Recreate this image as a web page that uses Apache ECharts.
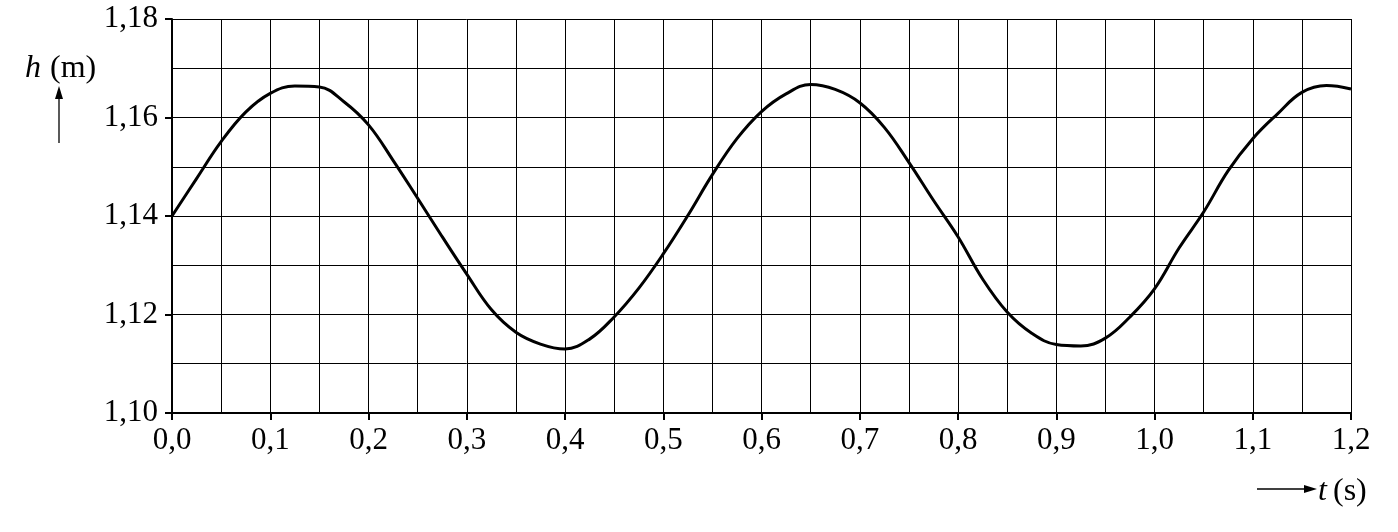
<!DOCTYPE html>
<html>
<head>
<meta charset="UTF-8">
<script src="https://cdn.jsdelivr.net/npm/echarts@6/dist/echarts.min.js"></script>
<style>
    html, body { margin: 0; padding: 0; background: #fff; }
    #chart { width: 1398px; height: 532px; }
</style>
</head>
<body>
<div id="chart"></div>
<script>
// tijd t (s), stap 0,025
var tijd = [0, 0.025, 0.05, 0.075, 0.1, 0.125, 0.15, 0.175, 0.2, 0.225, 0.25, 0.275,
    0.3, 0.325, 0.35, 0.375, 0.4, 0.425, 0.45, 0.475, 0.5, 0.525, 0.55, 0.575,
    0.6, 0.625, 0.65, 0.675, 0.7, 0.725, 0.75, 0.775, 0.8, 0.825, 0.85, 0.875,
    0.9, 0.925, 0.95, 0.975, 1.0, 1.025, 1.05, 1.075, 1.1, 1.125, 1.15, 1.175, 1.2];
// hoogte h (m)
var hoogte = [1.1400, 1.1476, 1.1551, 1.1611, 1.1649, 1.1664, 1.1662, 1.1632, 1.1585, 1.1513, 1.1436, 1.1358,
    1.1282, 1.1210, 1.1164, 1.1140, 1.1130, 1.1150, 1.1195, 1.1253, 1.1323, 1.1401, 1.1484, 1.1557,
    1.1612, 1.1648, 1.1667, 1.1657, 1.1630, 1.1580, 1.1509, 1.1432, 1.1358, 1.1272, 1.1205, 1.1162,
    1.1139, 1.1136, 1.1152, 1.1195, 1.1252, 1.1335, 1.1408, 1.1492, 1.1557, 1.1607, 1.1651, 1.1665, 1.1658];

var lettertype = '"Liberation Serif", "DejaVu Serif", serif';

var punten = tijd.map(function (t, i) { return [t, hoogte[i]]; });

// komma als decimaalteken
function komma(v, n) {
    return v.toFixed(n).replace('.', ',');
}

function tekst(x, y, s, cursief) {
    return {
        type: 'text', x: x, y: y,
        style: {
            text: s, fill: '#000',
            fontFamily: lettertype, fontSize: 32,
            fontStyle: cursief ? 'italic' : 'normal',
            verticalAlign: 'middle', align: 'left'
        }
    };
}

var option = {
    animation: false,
    grid: { left: 172, right: 47, top: 19, bottom: 119 },
    xAxis: {
        type: 'value',
        min: 0, max: 1.2, interval: 0.1,
        axisLine: { show: true, onZero: false, lineStyle: { color: '#000', width: 2 } },
        axisTick: { show: true, length: 7, lineStyle: { color: '#000', width: 2 } },
        axisLabel: {
            color: '#000', fontFamily: lettertype, fontSize: 31, margin: 12,
            formatter: function (v) { return komma(v, 1); }
        },
        splitLine: { show: true, lineStyle: { color: '#000', width: 1 } },
        minorTick: { show: false, splitNumber: 2 },
        minorSplitLine: { show: true, lineStyle: { color: '#000', width: 1 } }
    },
    yAxis: {
        type: 'value',
        min: 1.10, max: 1.18, interval: 0.02,
        axisLine: { show: true, lineStyle: { color: '#000', width: 2 } },
        axisTick: { show: true, length: 7, lineStyle: { color: '#000', width: 2 } },
        axisLabel: {
            color: '#000', fontFamily: lettertype, fontSize: 31, margin: 14,
            formatter: function (v) { return komma(v, 2); }
        },
        splitLine: { show: true, lineStyle: { color: '#000', width: 1 } },
        minorTick: { show: false, splitNumber: 2 },
        minorSplitLine: { show: true, lineStyle: { color: '#000', width: 1 } }
    },
    series: [{
        type: 'line',
        data: punten,
        smooth: 0.4,
        showSymbol: false,
        lineStyle: { color: '#000', width: 3 }
    }],
    graphic: [
        // as-titel h (m)
        tekst(25, 69, 'h', true),
        tekst(50, 69, '(m)', false),
        { type: 'line', shape: { x1: 59, y1: 143, x2: 59, y2: 95 },
          style: { stroke: '#000', lineWidth: 1.3 } },
        { type: 'polygon', shape: { points: [[59, 86], [55, 99], [63, 99]] },
          style: { fill: '#000' } },
        // as-titel t (s)
        { type: 'line', shape: { x1: 1257, y1: 489, x2: 1306, y2: 489 },
          style: { stroke: '#000', lineWidth: 1.3 } },
        { type: 'polygon', shape: { points: [[1317, 489], [1304, 485], [1304, 493]] },
          style: { fill: '#000' } },
        tekst(1318, 492, 't', true),
        tekst(1333, 492, '(s)', false)
    ]
};

var myChart = echarts.init(document.getElementById('chart'));
myChart.setOption(option);
</script>
</body>
</html>
